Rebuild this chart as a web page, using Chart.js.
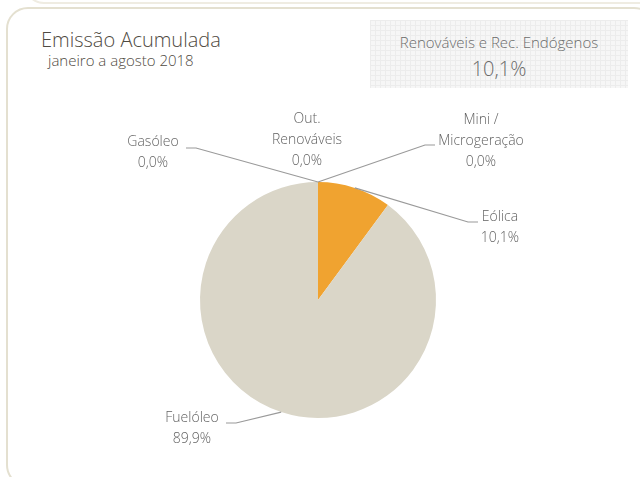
<!DOCTYPE html>
<html>
<head>
<meta charset="utf-8">
<script src="https://cdn.jsdelivr.net/npm/chart.js@4.4.1/dist/chart.umd.min.js"></script>
<style>
  html, body { margin: 0; padding: 0; background: #fff; }
  body { width: 640px; height: 477px; position: relative; overflow: hidden; font-family: "Open Sans", "Noto Sans", sans-serif; font-weight: 300; }
  .topline { position: absolute; left: 24px; top: -40px; width: 640px; height: 40px; border: 2px solid #efece2; border-radius: 20px; }
  .panel { position: absolute; left: 6px; top: 7px; width: 650px; height: 480px; border: 2px solid #e4e0d0; border-radius: 22px; box-sizing: border-box; }
  .title { position: absolute; left: 41px; top: 26px; font-size: 20px; color: #4f4a42; }
  .sub { position: absolute; left: 48px; top: 50px; font-size: 15px; color: #4f4a42; }
  .kpi { position: absolute; left: 370px; top: 20px; width: 258px; height: 68px; text-align: center; color: #6a6a6a;
    background-color: #f6f6f6;
    background-image: linear-gradient(#ececec 1px, transparent 1px), linear-gradient(90deg, #ececec 1px, transparent 1px);
    background-size: 5px 5px; }
  .kpi .a { font-size: 15px; margin-top: 12px; }
  .kpi .b { font-size: 20px; margin-top: 3px; }
  canvas { position: absolute; left: 0; top: 0; }
</style>
</head>
<body>
<div class="topline"></div>
<div class="panel"></div>
<div class="title">Emissão Acumulada</div>
<div class="sub">janeiro a agosto 2018</div>
<div class="kpi"><div class="a">Renováveis e Rec. Endógenos</div><div class="b">10,1%</div></div>
<canvas id="pieChart" width="640" height="477"></canvas>
<script>
// data
const categories = ["Eólica", "Fuelóleo", "Gasóleo", "Out. Renováveis", "Mini / Microgeração"];
const labelLines = [["Eólica"], ["Fuelóleo"], ["Gasóleo"], ["Out.", "Renováveis"], ["Mini /", "Microgeração"]];
const shares = [10.1, 89.9, 0, 0, 0];
const sliceColors = ["#F0A330", "#DAD6C8", "#A5A5A5", "#70AD47", "#5B9BD5"];

// label placement relative to pie centre: text block centre (tx,ty), leader end (lx,ly), elbow direction
const labelLayout = [
  { tx: 182, ty: -72, lx: 160, ly: -78, dir: -1 },
  { tx: -126, ty: 129, lx: -92, ly: 123, dir: 1 },
  { tx: -165, ty: -147, lx: -132, ly: -152, dir: 1 },
  { tx: -11, ty: -160, lx: null },
  { tx: 163, ty: -159, lx: 117, ly: -155, dir: -1 }
];

function fmt(v) {
  return v.toFixed(1).replace(".", ",") + "%";
}

const pieLabels = {
  id: "pieLabels",
  afterDraw(chart) {
    const ctx = chart.ctx;
    const meta = chart.getDatasetMeta(0);
    ctx.save();
    meta.data.forEach((arc, i) => {
      const p = arc.getProps(["x", "y", "startAngle", "endAngle", "outerRadius"], true);
      const mid = (p.startAngle + p.endAngle) / 2;
      const ax = p.x + Math.cos(mid) * p.outerRadius;
      const ay = p.y + Math.sin(mid) * p.outerRadius;
      const L = labelLayout[i];
      if (L.lx !== null) {
        const ex = p.x + L.lx, ey = p.y + L.ly;
        ctx.strokeStyle = "#9a9a9a";
        ctx.lineWidth = 1.2;
        ctx.beginPath();
        ctx.moveTo(ax, ay);
        ctx.lineTo(ex + L.dir * 10, ey);
        ctx.lineTo(ex, ey);
        ctx.stroke();
      }
      const lines = labelLines[i].concat([fmt(shares[i])]);
      ctx.fillStyle = "#626262";
      ctx.font = '300 14px "Open Sans", "Noto Sans", sans-serif';
      ctx.textAlign = "center";
      ctx.textBaseline = "middle";
      const lh = 21;
      const top = p.y + L.ty - (lines.length - 1) * lh / 2;
      lines.forEach((t, k) => ctx.fillText(t, p.x + L.tx, top + k * lh));
    });
    ctx.restore();
  }
};

new Chart(document.getElementById("pieChart"), {
  type: "pie",
  data: {
    labels: categories,
    datasets: [{
      data: shares,
      backgroundColor: sliceColors,
      borderWidth: 0
    }]
  },
  options: {
    responsive: false,
    animation: false,
    layout: { padding: { left: 200, right: 204, top: 182, bottom: 59 } },
    plugins: {
      legend: { display: false },
      tooltip: { enabled: false }
    }
  },
  plugins: [pieLabels]
});
</script>
</body>
</html>
